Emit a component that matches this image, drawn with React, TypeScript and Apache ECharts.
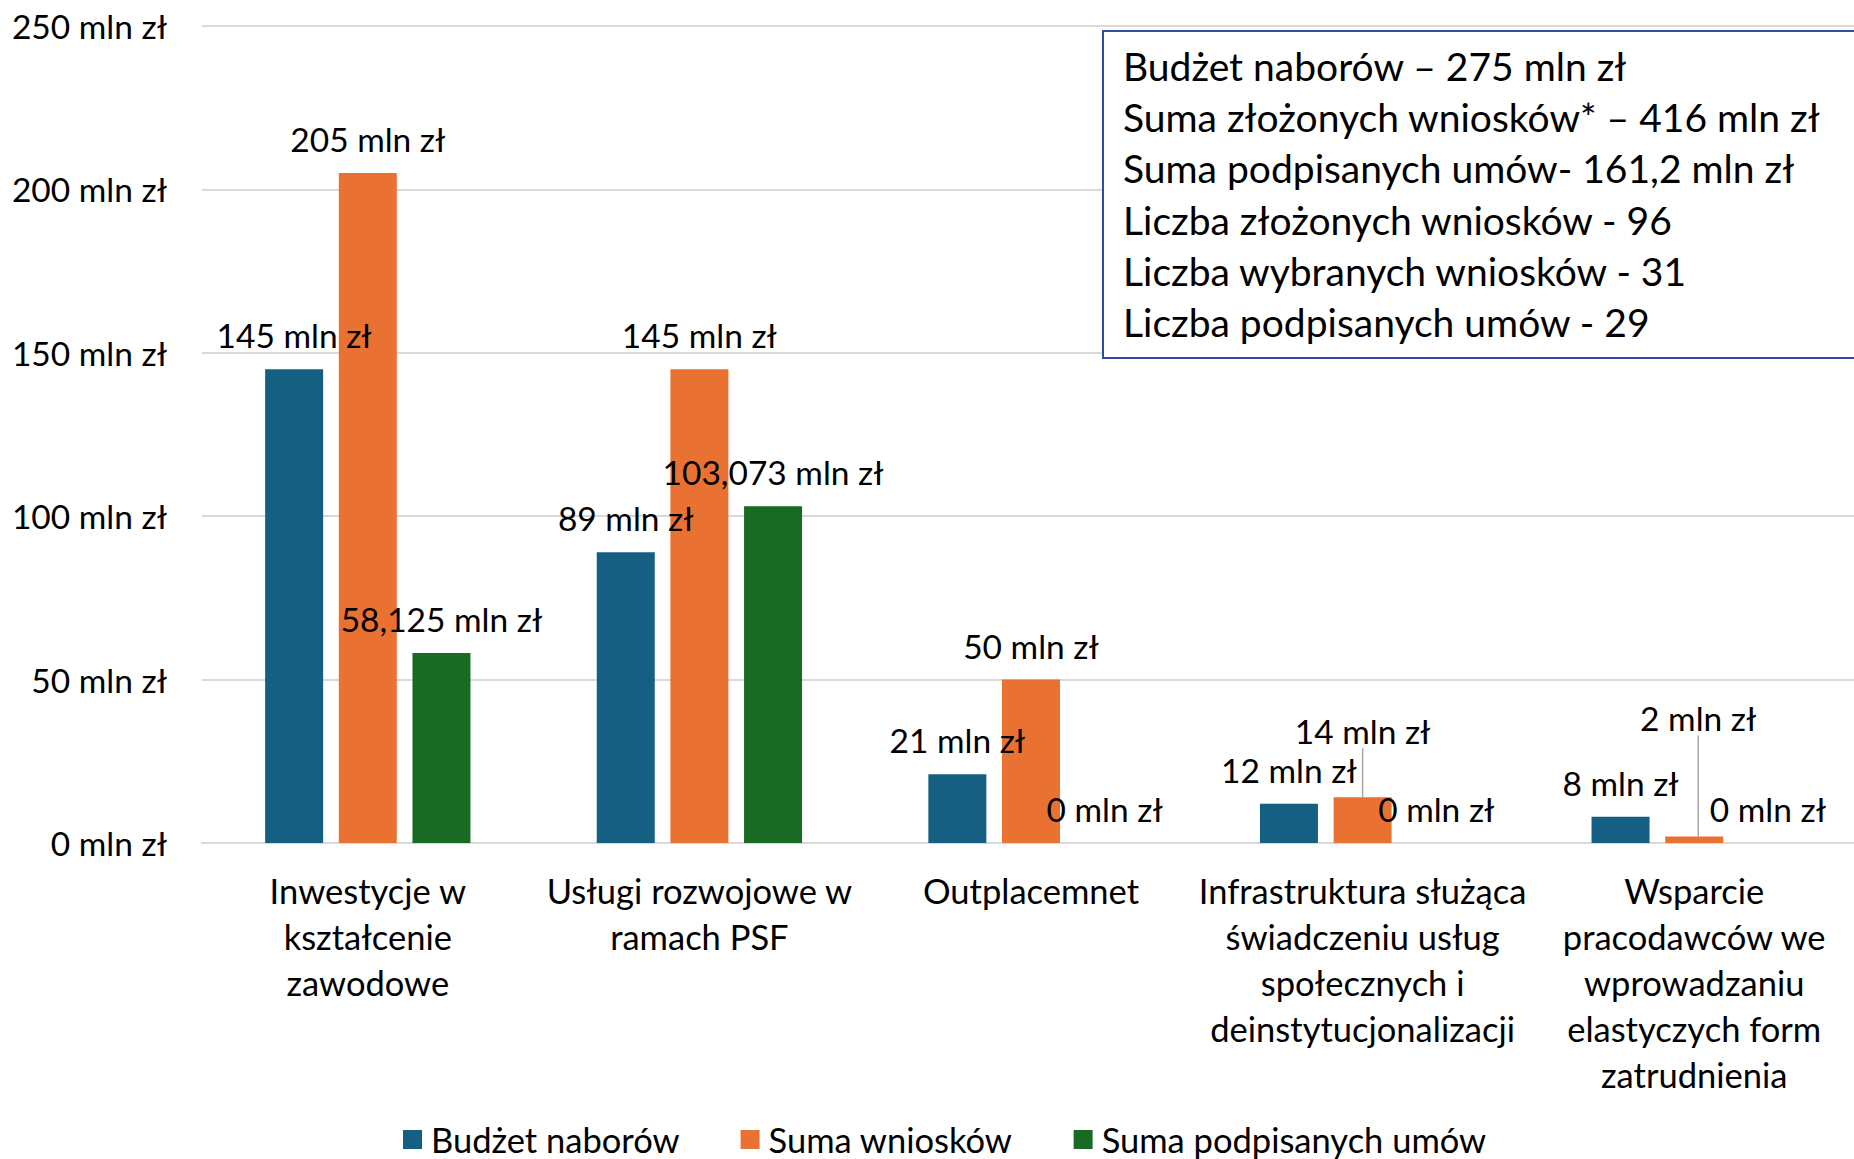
import React, { useEffect, useRef } from "react";
import * as echarts from "echarts";

const categories = [
  "Inwestycje w\nkształcenie\nzawodowe",
  "Usługi rozwojowe w\nramach PSF",
  "Outplacemnet",
  "Infrastruktura służąca\nświadczeniu usług\nspołecznych i\ndeinstytucjonalizacji",
  "Wsparcie\npracodawców we\nwprowadzaniu\nelastyczych form\nzatrudnienia",
];
const budzet = [145, 89, 21, 12, 8];
const wnioski = [205, 145, 50, 14, 2];
const umowy = [58.125, 103.073, 0, 0, 0];
const seriesNames = ["Budżet naborów", "Suma wniosków", "Suma podpisanych umów"];
const yTicks = { min: 0, max: 250, interval: 50 };
const boxLines = [
  "Budżet naborów – 275 mln zł",
  "Suma złożonych wniosków* – 416 mln zł",
  "Suma podpisanych umów- 161,2 mln zł",
  "Liczba złożonych wniosków - 96",
  "Liczba wybranych wniosków - 31",
  "Liczba podpisanych umów - 29",
];

const FONT = "Lato";
const FS = 33.5;
const FS_CAT = 34.5;

export default function App() {
  const ref = useRef<HTMLDivElement>(null);
  useEffect(() => {
    if (!ref.current) return;
    const chart = echarts.init(ref.current, undefined, { renderer: "svg" });
    const fmt = (v: number) => String(v).replace(".", ",") + " mln zł";
    const labelCfg = {
      show: true,
      position: "top",
      distance: 17,
      color: "#000",
      fontFamily: FONT,
      fontSize: FS,
      formatter: (p: any) => fmt(p.value),
    };
    const moved: Record<number, { dx: number; dy: number }> = {
      3: { dx: 0, dy: -32 },
      4: { dx: 4, dy: -84 },
    };
    chart.setOption({
      animation: false,
      textStyle: { fontFamily: FONT },
      grid: { left: 202, right: 12, top: 26, bottom: 316, containLabel: false },
      legend: {
        data: seriesNames,
        left: 398,
        bottom: -3,
        itemWidth: 19,
        itemHeight: 19,
        itemGap: 61,
        icon: "rect",
        textStyle: { fontFamily: FONT, fontSize: FS_CAT, color: "#000", padding: [0, 0, 0, 4] },
      },
      xAxis: {
        type: "category",
        data: categories,
        axisTick: { show: false },
        axisLine: { lineStyle: { color: "#D9D9D9", width: 2 } },
        axisLabel: {
          interval: 0,
          color: "#000",
          fontFamily: FONT,
          fontSize: FS_CAT,
          lineHeight: 46,
          margin: 24,
        },
      },
      yAxis: {
        type: "value",
        min: yTicks.min,
        max: yTicks.max,
        interval: yTicks.interval,
        axisLine: { show: false },
        splitLine: { lineStyle: { color: "#D9D9D9", width: 2 } },
        axisLabel: {
          margin: 35,
          color: "#000",
          fontFamily: FONT,
          fontSize: FS,
          formatter: (v: number) => v + " mln zł",
        },
      },
      series: [
        {
          name: seriesNames[0],
          type: "bar",
          data: budzet,
          barWidth: 58,
          barGap: "27%",
          itemStyle: { color: "#156082" },
          label: labelCfg,
        },
        {
          name: seriesNames[1],
          type: "bar",
          data: wnioski.map((v, i) =>
            moved[i]
              ? { value: v, labelLine: { show: true, lineStyle: { color: "#A6A6A6", width: 1.5 } } }
              : v
          ),
          barWidth: 58,
          barGap: "27%",
          itemStyle: { color: "#E97132" },
          label: labelCfg,
          labelLine: { show: false },
          labelLayout: (p: any) => (moved[p.dataIndex] ? { dx: moved[p.dataIndex].dx, dy: moved[p.dataIndex].dy } : {}),
        },
        {
          name: seriesNames[2],
          type: "bar",
          data: umowy,
          barWidth: 58,
          barGap: "27%",
          itemStyle: { color: "#196B24" },
          label: labelCfg,
        },
      ],
      graphic: [
        {
          type: "rect",
          shape: { x: 1103, y: 31, width: 780, height: 327 },
          style: { fill: "#fff", stroke: "#2F4F9F", lineWidth: 2 },
          z: 10,
        },
        {
          type: "text",
          x: 1123,
          y: 40,
          z: 11,
          style: {
            text: boxLines.join("\n"),
            fill: "#000",
            fontFamily: FONT,
            fontSize: 39,
            lineHeight: 51.3,
          },
        },
      ],
    });
    return () => chart.dispose();
  }, []);
  return (
    <div
      style={{ position: "absolute", left: 0, top: 0, width: 1854, height: 1159, overflow: "hidden", background: "#fff" }}
    >
      <div ref={ref} style={{ width: 1872, height: 1159 }} />
    </div>
  );
}
